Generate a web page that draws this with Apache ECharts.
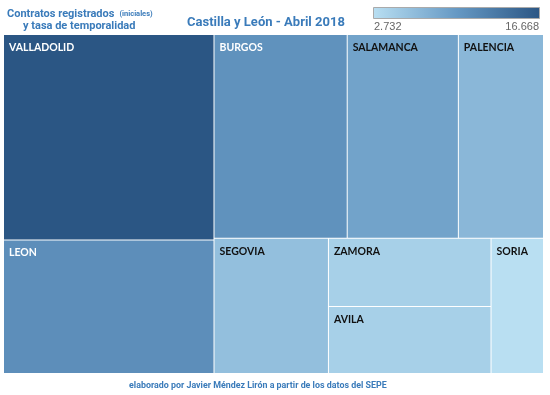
<!DOCTYPE html>
<html>
<head>
<meta charset="utf-8">
<script src="https://cdn.jsdelivr.net/npm/echarts@6/dist/echarts.min.js"></script>
<style>
html,body{margin:0;padding:0;background:#ffffff;}
#main{width:550px;height:395px;}
</style>
</head>
<body>
<div id="main"></div>
<script>
// ---- data ----
const provinces = ['VALLADOLID','LEON','BURGOS','SALAMANCA','PALENCIA','SEGOVIA','ZAMORA','AVILA','SORIA'];
const contratos = [16668, 10814, 10454, 8724, 6681, 5959, 4265, 4202, 2732];
const legendLabels = ['2.732', '16.668'];
const legendMin = 2732;
const legendMax = 16668;
const rampColors = ['#b9dff2', '#6699c4', '#2b5684'];

const titleLine1 = 'Contratos registrados';
const titleNote = '(iniciales)';
const titleLine2 = 'y tasa de temporalidad';
const titleText = 'Castilla y León - Abril 2018';
const footerText = 'elaborado por Javier Méndez Lirón a partir de los datos del SEPE';

const blue = '#3a7bba';

const data = provinces.map((p, i) => ({
  name: p,
  value: contratos[i],
  label: { color: contratos[i] > 9000 ? '#ffffff' : '#111111' }
}));

const chart = echarts.init(document.getElementById('main'), null, {renderer: 'canvas'});
chart.setOption({
  backgroundColor: '#ffffff',
  animation: false,
  title: [
    {
      text: '{a|' + titleLine1 + '} {b|' + titleNote + '}',
      left: 7, top: 5, padding: 0,
      textStyle: {
        rich: {
          a: { fontFamily: 'Roboto', fontWeight: 'bold', fontSize: 11, color: blue },
          b: { fontFamily: 'Roboto', fontWeight: 'bold', fontSize: 7.5, color: blue }
        }
      }
    },
    {
      text: titleLine2,
      left: 23, top: 21, padding: 0,
      textStyle: { fontFamily: 'Roboto', fontWeight: 'bold', fontSize: 11, color: blue }
    },
    {
      text: titleText,
      left: 187, top: 16, padding: 0,
      textStyle: { fontFamily: 'Roboto', fontWeight: 'bold', fontSize: 13, color: blue }
    },
    {
      text: footerText,
      left: 129, top: 381, padding: 0,
      textStyle: { fontFamily: 'Roboto', fontWeight: 'bold', fontSize: 8.9, color: blue }
    }
  ],
  graphic: [
    {
      type: 'rect',
      left: 373, top: 7,
      shape: { width: 166, height: 11 },
      style: {
        fill: new echarts.graphic.LinearGradient(0, 0, 1, 0, rampColors.map((c, i) => ({
          offset: i / (rampColors.length - 1), color: c
        }))),
        stroke: '#aaaaaa', lineWidth: 1
      }
    },
    {
      type: 'text', left: 374, top: 21,
      style: { text: legendLabels[0], fill: '#666', font: '11px "Liberation Sans"' }
    },
    {
      type: 'text', right: 11, top: 21,
      style: { text: legendLabels[1], fill: '#666', font: '11px "Liberation Sans"', textAlign: 'right' }
    }
  ],
  series: [{
    type: 'treemap',
    left: 4, top: 35, width: 539, height: 338,
    roam: false,
    nodeClick: false,
    breadcrumb: { show: false },
    silent: true,
    label: {
      show: true,
      position: [0, 2],
      align: 'left',
      verticalAlign: 'top',
      fontFamily: 'Lato',
      fontWeight: 'bold',
      fontSize: 10.5
    },
    levels: [
      {
        color: rampColors,
        colorMappingBy: 'value',
        visualMin: legendMin,
        visualMax: legendMax,
        itemStyle: { borderColor: '#ffffff', borderWidth: 0, gapWidth: 1 }
      },
      {
        itemStyle: { borderWidth: 0, gapWidth: 0 }
      }
    ],
    data: data
  }]
});
</script>
</body>
</html>
